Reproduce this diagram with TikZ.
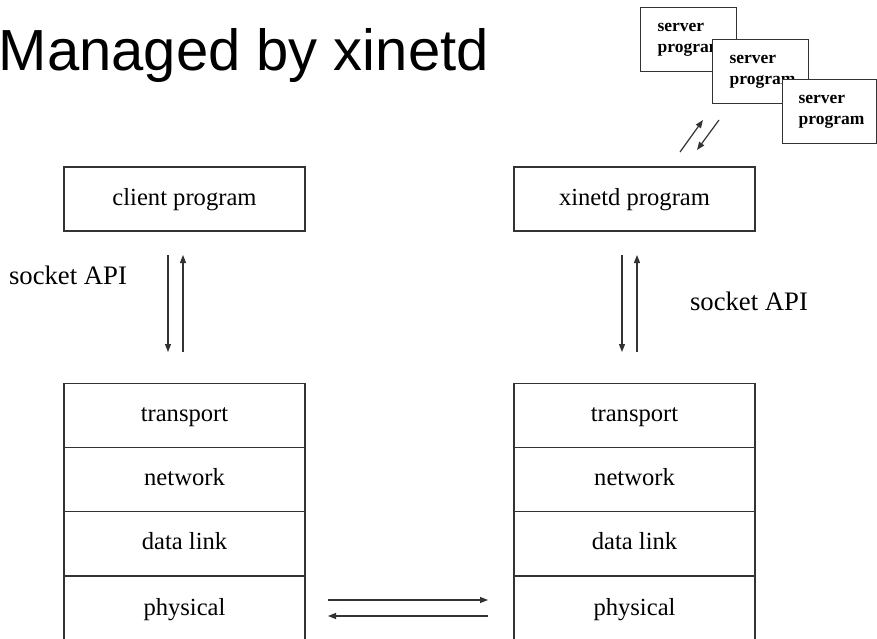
\documentclass[tikz,border=0pt]{standalone}
\usepackage{fontspec}
\setmainfont{Liberation Serif}
\newfontfamily\titlefont{Liberation Sans}
\usetikzlibrary{arrows.meta}
\begin{document}
\begin{tikzpicture}[x=1pt,y=-1pt,
  box/.style={draw=black!80, line width=1.2pt, minimum width=241pt, minimum height=64pt,
    inner sep=0pt, text height=16pt, text depth=4pt, fill=white,
    font=\fontsize{24.6}{28}\selectfont},
  srv/.style={draw=black!80, line width=1.2pt, fill=white, text width=62pt, inner xsep=17pt,
    inner ysep=0pt, minimum height=64pt, align=left, anchor=north west,
    font=\bfseries\fontsize{17.5}{21}\selectfont},
  conn/.style={draw=black!80, line width=1.2pt, -{Triangle[length=8pt,width=6pt]}},
  lbl/.style={font=\fontsize{26.7}{30}\selectfont, inner sep=0pt, anchor=base}
]
\clip (0,0) rectangle (877,639);
\useasboundingbox (0,0) rectangle (877,639);

% title
\node[anchor=base west, inner sep=0pt, font=\titlefont\fontsize{58}{60}\selectfont] (title) at (-1.5,71) {Managed by xinetd};

% server programs
\node[srv] (s1) at (640,7) {server\\program};
\node[srv] (s2) at (712,39) {server\\program};
\node[srv, inner xsep=16pt] (s3) at (782,79) {server\\program};

% upper boxes
\node[box] (client) at (184.5,199) {client program};
\node[box] (xinetd) at (634.5,199) {xinetd program};

% left stack
\node[box] (lt) at (184.5,415.2) {transport};
\node[box] (ln) at (184.5,479.5) {network};
\node[box] (ld) at (184.5,543.8) {data link};
\node[box, minimum height=66pt] (lp) at (184.5,609) {physical};

% right stack
\node[box] (rt) at (634.5,415.2) {transport};
\node[box] (rn) at (634.5,479.5) {network};
\node[box] (rd) at (634.5,543.8) {data link};
\node[box, minimum height=66pt] (rp) at (634.5,609) {physical};

% labels
\node[lbl] (sockL) at (68,284) {socket API};
\node[lbl] (sockR) at (749,310) {socket API};

% arrow end points
\coordinate (a1) at (168,255); \coordinate (a2) at (168,352);
\coordinate (b1) at (183,352); \coordinate (b2) at (183,255);
\coordinate (c1) at (622,255); \coordinate (c2) at (622,352);
\coordinate (d1) at (637,352); \coordinate (d2) at (637,255);
\coordinate (h1) at (328,600); \coordinate (h2) at (488,600);
\coordinate (k1) at (488,616); \coordinate (k2) at (328,616);
\coordinate (g1) at (680,152); \coordinate (g2) at (703,120);
\coordinate (f1) at (719,120); \coordinate (f2) at (697,150);

\draw[conn] (a1) -- (a2);
\draw[conn] (b1) -- (b2);
\draw[conn] (c1) -- (c2);
\draw[conn] (d1) -- (d2);
\draw[conn] (h1) -- (h2);
\draw[conn] (k1) -- (k2);
\draw[conn] (g1) -- (g2);
\draw[conn] (f1) -- (f2);
\end{tikzpicture}
\end{document}
